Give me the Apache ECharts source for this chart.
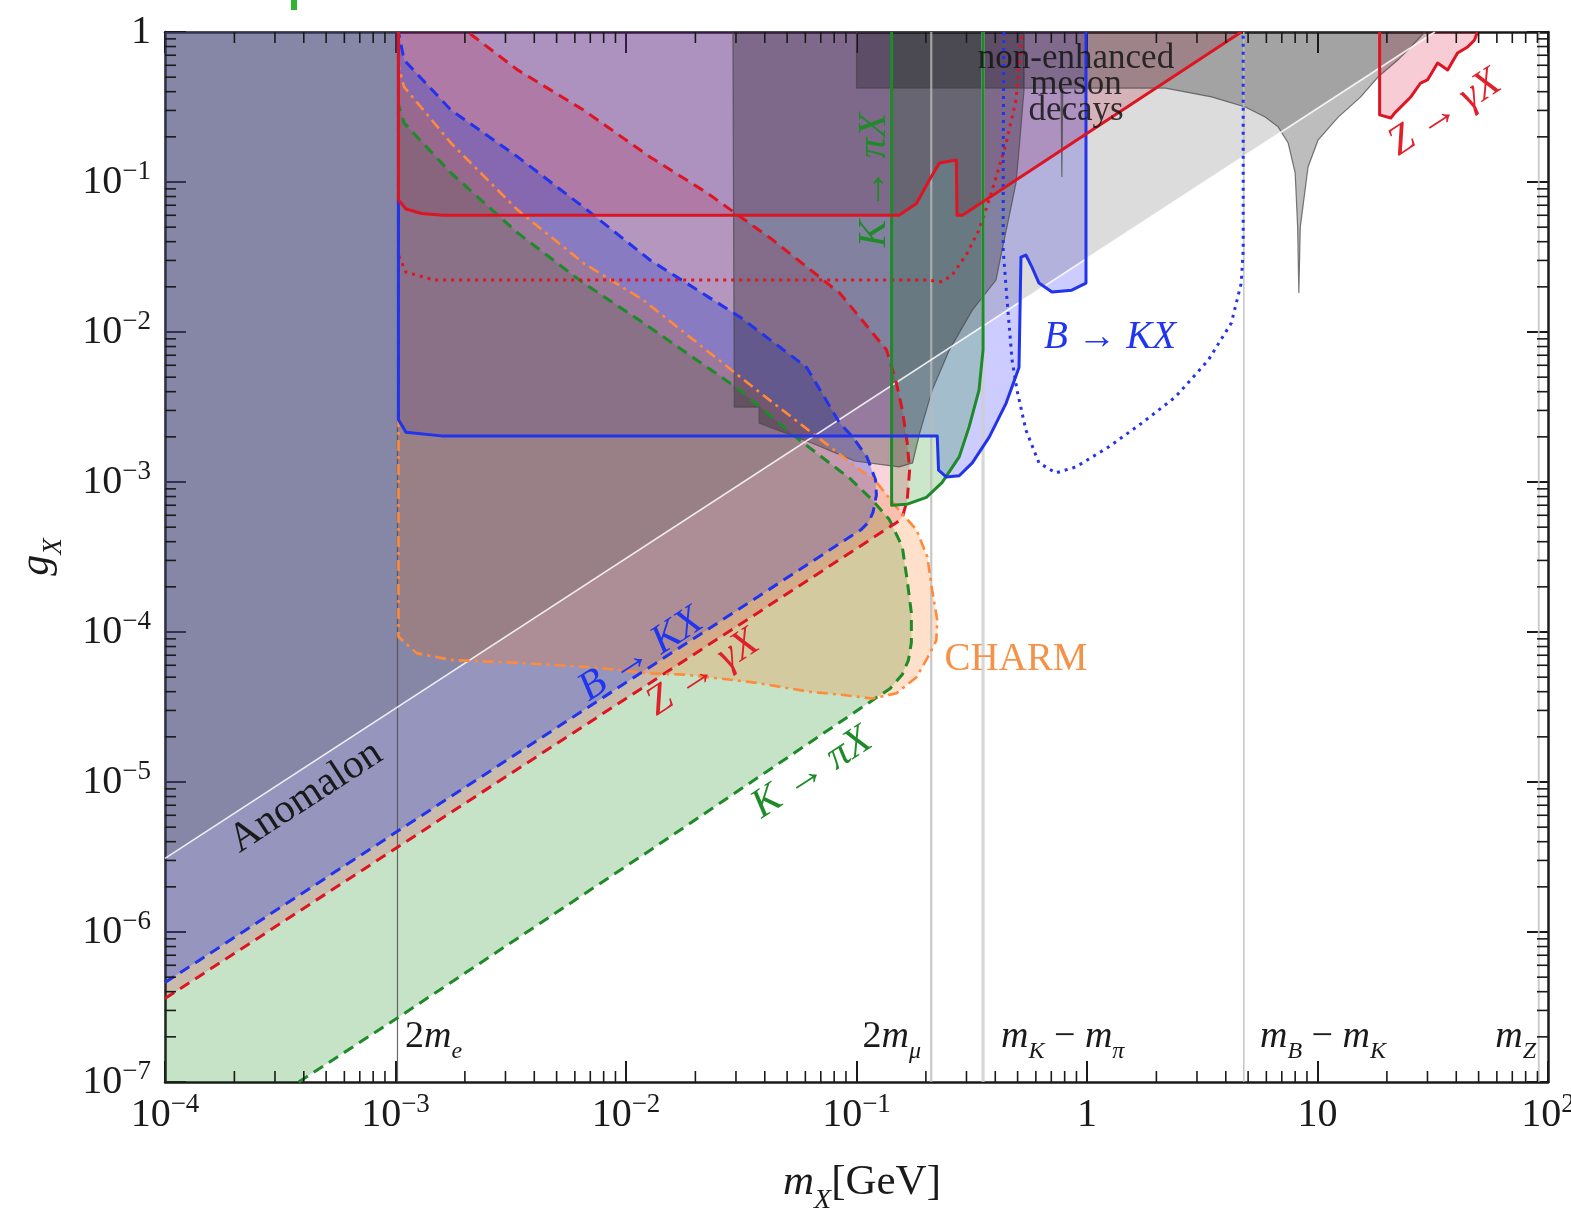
<!DOCTYPE html>
<html><head><meta charset="utf-8">
<script src="https://cdn.jsdelivr.net/npm/echarts@6/dist/echarts.min.js"></script>
<style>html,body{margin:0;padding:0;background:#fff}#c{width:1571px;height:1211px}</style>
</head><body><div id="c"></div>
<script>
// ================= DATA (m_X in GeV, g_X) =================
const xRange = [1e-4, 100];
const yRange = [1e-7, 1];
const thresholdNames = ['2me', '2mmu', 'mK-mpi', 'mB-mK', 'mZ'];
const thresholdMasses = [1.02e-3, 0.211, 0.354, 4.79, 91.19];

// white line: upper edge of the anomalon (light gray) region
const anomalonEdge = [[1e-4, 3.1e-6], [32.3, 1]];

// B -> K X (enhanced, dashed)
const bkxEnhanced = [[1e-4,4.6e-7],[0.105,4.83e-4],[0.113,5.4e-4],[0.118,6.3e-4],[0.122,8.2e-4],[0.121,1.03e-3],[0.111,1.47e-3],[0.0962,2.0e-3],[0.0845,2.47e-3],[0.0608,5.8e-3],[0.0312,0.0126],[0.0127,0.0302],[6.54e-3,0.068],[3.39e-3,0.147],[1.74e-3,0.302],[1.09e-3,0.65],[1.03e-3,1]];
// Z -> gamma X (enhanced, dashed)
const zgxEnhanced = [[1e-4,3.6e-7],[0.15,5.4e-4],[0.158,5.8e-4],[0.166,7.6e-4],[0.17,1.2e-3],[0.166,1.82e-3],[0.158,3.02e-3],[0.149,4.57e-3],[0.135,7.6e-3],[0.0845,0.0182],[0.0434,0.041],[0.0225,0.0845],[0.0127,0.147],[6.54e-3,0.302],[3.39e-3,0.558],[2.06e-3,1]];
// K -> pi X (enhanced, dashed)
const kpxEnhanced = [[3.8e-4,1e-7],[1.03e-3,2.7e-7],[0.0127,3.5e-6],[0.117,3.5e-5],[0.14,4.2e-5],[0.158,5.2e-5],[0.168,6.5e-5],[0.173,8.5e-5],[0.173,1.34e-4],[0.166,2.2e-4],[0.158,3.7e-4],[0.139,5.6e-4],[0.117,7.6e-4],[0.0933,1.06e-3],[0.0567,1.9e-3],[0.0312,4.1e-3],[0.0119,0.0115],[6.54e-3,0.0212],[3.39e-3,0.0457],[1.74e-3,0.115],[1.09e-3,0.247],[1.03e-3,0.33]];
// CHARM (dot-dashed)
const charmEdge = [[1.03e-3,1],[1.03e-3,9.3e-5],[1.24e-3,7.2e-5],[1.76e-3,6.5e-5],[3.6e-3,6.2e-5],[7.3e-3,5.8e-5],[0.0125,5.3e-5],[0.0179,5.2e-5],[0.0253,4.9e-5],[0.0362,4.6e-5],[0.0621,4.0e-5],[0.0879,3.8e-5],[0.117,3.6e-5],[0.149,3.9e-5],[0.182,5.0e-5],[0.204,6.8e-5],[0.222,8.8e-5],[0.224,1.2e-4],[0.213,1.9e-4],[0.203,3.16e-4],[0.182,4.8e-4],[0.149,6.8e-4],[0.12,1.03e-3],[0.101,1.24e-3],[0.0393,3.8e-3],[0.0119,0.0163],[6.54e-3,0.0288],[3.39e-3,0.065],[1.74e-3,0.182],[1.09e-3,0.43],[1.03e-3,0.6]];
// non-enhanced (solid) bounds
const kpxVisible = [[0.142,1],[0.142,7.0e-4],[0.165,7.1e-4],[0.201,7.9e-4],[0.235,9.9e-4],[0.279,1.47e-3],[0.308,2.33e-3],[0.34,4.1e-3],[0.354,7.6e-3],[0.354,1]];
const bkxVisible = [[1.03e-3,1],[1.03e-3,2.6e-3],[1.11e-3,2.15e-3],[1.58e-3,2.03e-3],[0.224,2.03e-3],[0.227,1.2e-3],[0.245,1.08e-3],[0.279,1.1e-3],[0.318,1.34e-3],[0.377,2.0e-3],[0.446,3.36e-3],[0.507,5.8e-3],[0.517,0.0316],[0.543,0.0326],[0.577,0.0271],[0.619,0.0212],[0.705,0.0185],[0.859,0.019],[0.99,0.0212],[0.99,1]];
const zgxVisible = [[1.03e-3,1],[1.03e-3,0.076],[1.11e-3,0.066],[1.3e-3,0.0617],[1.6e-3,0.06],[0.153,0.06],[0.182,0.072],[0.207,0.103],[0.229,0.134],[0.271,0.14],[0.273,0.06],[0.288,0.06],[4.67,1]];
const zgxHigh = [[18.6,1],[18.6,0.28],[20.8,0.267],[21.6,0.288],[25.4,0.369],[28.0,0.457],[30.0,0.479],[33.2,0.621],[36.7,0.558],[40.5,0.724],[44.8,0.794],[48.0,0.885],[49.4,1]];
// dotted curves
const bkxDotted = [[0.436,1],[0.433,0.163],[0.433,0.035],[0.45,0.0163],[0.473,6.5e-3],[0.497,4.1e-3],[0.543,2.22e-3],[0.619,1.34e-3],[0.733,1.15e-3],[0.895,1.26e-3],[1.24,1.71e-3],[1.73,2.47e-3],[2.42,3.69e-3],[3.36,6.5e-3],[4.23,0.0115],[4.67,0.0212],[4.76,0.035],[4.76,1]];
const zgxDotted = [[1.03e-3,1],[1.03e-3,0.0326],[1.11e-3,0.0251],[1.47e-3,0.0222],[0.201,0.0222],[0.235,0.0216],[0.26,0.024],[0.299,0.0326],[0.34,0.0479],[0.376,0.0759],[0.416,0.126],[0.446,0.182],[0.492,0.352],[0.522,1]];
// dark gray regions
const mesonBox = [[0.1,1],[0.1,0.423],[0.772,0.423],[0.778,0.108],[0.785,0.423],[2.19,0.423],[3.47,0.369],[4.86,0.316],[5.93,0.271],[6.75,0.233],[7.46,0.182],[8.0,0.115],[8.2,0.05],[8.3,0.0182],[8.42,0.05],[9.1,0.126],[10.05,0.19],[12.3,0.271],[15.4,0.369],[18.3,0.501],[22.3,0.65],[25.4,0.794],[29.2,1]];
const darkRegion = [[0.0291,1],[0.0295,3.16e-3],[0.0378,3.16e-3],[0.0378,2.47e-3],[0.064,1.82e-3],[0.098,1.38e-3],[0.153,1.26e-3],[0.175,1.34e-3],[0.188,2.12e-3],[0.213,4.1e-3],[0.253,7.6e-3],[0.318,0.014],[0.403,0.0222],[0.428,0.0352],[0.459,0.0585],[0.492,0.0985],[0.507,0.163],[0.533,0.41],[0.533,1]];

// ================= helpers =================
const SERIF = "'Liberation Serif','DejaVu Serif',serif";
const TL = xRange[0], TR = xRange[1], YB = yRange[0], YT = yRange[1];

function polySeries(name, pts, fill, stroke, lw, z) {
  return {
    type: 'custom', name: name, coordinateSystem: 'cartesian2d', data: pts, z: z, silent: true,
    renderItem: function (params, api) {
      if (params.dataIndex !== 0) return null;
      const points = pts.map(function (p) { return api.coord(p); });
      return { type: 'polygon', shape: { points: points },
        style: { fill: fill, stroke: stroke || null, lineWidth: lw || 0 } };
    }
  };
}
function lineSeries(name, pts, color, width, type, z) {
  return { type: 'line', name: name, data: pts, symbol: 'none', showSymbol: false, silent: true, z: z,
    lineStyle: { color: color, width: width, type: type || 'solid', cap: 'butt', join: 'round' } };
}

// minor tick positions (2..9 x 10^n)
const minorX = [], minorY = [];
for (let e = -4; e < 2; e++) for (let k = 2; k < 10; k++) minorX.push(k * Math.pow(10, e));
for (let e = -7; e < 0; e++) for (let k = 2; k < 10; k++) minorY.push(k * Math.pow(10, e));

function expLabel(v) {
  const e = Math.round(Math.log10(v));
  if (e === 0) return '{a|1}';
  if (e === 1) return '{a|10}';
  return '{a|10}{b|' + (e < 0 ? '\u2212' : '') + Math.abs(e) + '}';
}
const tickRich = {
  a: { fontFamily: SERIF, fontSize: 40, lineHeight: 48, color: '#1a1a1a' },
  b: { fontFamily: SERIF, fontSize: 27, lineHeight: 27, verticalAlign: 'top', color: '#1a1a1a' }
};

function axisCommon(extra) {
  return Object.assign({
    type: 'log', logBase: 10,
    axisLine: { show: true, onZero: false, lineStyle: { color: '#1a1a1a', width: 2.5 } },
    axisTick: { show: true, inside: true, length: 21, lineStyle: { color: '#1a1a1a', width: 2 } },
    splitLine: { show: false }, minorTick: { show: false }, minorSplitLine: { show: false }
  }, extra);
}

// ================= series (drawing order matters for the translucent blend) =================
const series = [];
const C = {
  zgxVis: 'rgba(220,0,40,0.2)', bkxVis: 'rgba(0,0,255,0.2)', kpxVis: 'rgba(0,128,0,0.20)',
  kpx: 'rgba(0,128,0,0.22)', zgxBand: 'rgba(220,0,40,0.17)', bkx: 'rgba(30,60,230,0.30)',
  charm: 'rgba(255,120,20,0.22)', anom: 'rgba(71,71,71,0.19)', dark: 'rgba(0,0,0,0.27)', box: 'rgba(0,0,0,0.26)'
};
series.push(polySeries('Z->gX', zgxVisible, C.zgxVis, null, 0, 1));
series.push(polySeries('Z->gX high', zgxHigh, C.zgxVis, null, 0, 1));
series.push(polySeries('B->KX', bkxVisible, C.bkxVis, null, 0, 1));
series.push(polySeries('K->piX', kpxVisible, C.kpxVis, null, 0, 1));
series.push(polySeries('K->piX enhanced', [[TL, YB]].concat(kpxEnhanced, [[1.03e-3, YT], [TL, YT]]), C.kpx, null, 0, 1));
series.push(polySeries('Z->gX enhanced', zgxEnhanced.concat([[TL, YT]]), C.zgxBand, null, 0, 1));
series.push(polySeries('B->KX enhanced', bkxEnhanced.concat([[TL, YT]]), C.bkx, null, 0, 1));
series.push(polySeries('CHARM', charmEdge, C.charm, null, 0, 1));
series.push(polySeries('Anomalon', anomalonEdge.concat([[TL, YT]]), C.anom, null, 0, 1));
series.push(polySeries('dark', darkRegion, C.dark, 'rgba(70,70,70,0.7)', 1.2, 1));
series.push(polySeries('non-enhanced meson decays', mesonBox, C.box, 'rgba(70,70,70,0.7)', 1.2, 1));

// threshold lines
const thrStyle = [['rgba(80,80,80,0.85)', 1.2], ['rgba(185,185,185,0.8)', 2.2], ['rgba(205,205,205,0.8)', 3.2], ['rgba(190,190,190,0.85)', 1.6], ['rgba(195,195,195,0.85)', 2]];
thresholdMasses.forEach(function (m, i) {
  series.push(lineSeries(thresholdNames[i], [[m, YB], [m, YT]], thrStyle[i][0], thrStyle[i][1], 'solid', 3));
});
series.push(lineSeries('anomalon edge', anomalonEdge, 'rgba(255,255,255,0.85)', 1.6, 'solid', 4));

// boundaries
const BLUE = '#2233ee', RED = '#dd1522', GREEN = '#1e8a28', ORANGE = '#ff8a3a';
series.push(lineSeries('K->piX enh line', kpxEnhanced, GREEN, 3, [11, 7], 5));
series.push(lineSeries('Z->gX enh line', zgxEnhanced, RED, 3, [11, 7], 5));
series.push(lineSeries('B->KX enh line', bkxEnhanced, BLUE, 3, [11, 7], 5));
series.push(lineSeries('B->KX enh vert', [[1.03e-3, YT], [1.03e-3, 2.6e-3]], BLUE, 3, [11, 7], 5));
series.push(lineSeries('CHARM line', charmEdge, ORANGE, 2.6, [11, 5, 3, 5], 5));
series.push(lineSeries('Z->gX dotted', zgxDotted, RED, 3, [3, 5], 6));
series.push(lineSeries('B->KX dotted', bkxDotted, BLUE, 3, [3, 5], 6));
series.push(lineSeries('K->piX line', kpxVisible, GREEN, 3, 'solid', 7));
series.push(lineSeries('B->KX line', bkxVisible, BLUE, 3, 'solid', 7));
series.push(lineSeries('Z->gX line', zgxVisible, RED, 3, 'solid', 7));
series.push(lineSeries('Z->gX high line', zgxHigh, RED, 3, 'solid', 7));

// minor ticks on all four sides
series.push({
  type: 'custom', name: 'minor ticks', coordinateSystem: 'cartesian2d', data: [[1e-3, 1e-3]], z: 20, silent: true, clip: false,
  renderItem: function (params, api) {
    const ch = [];
    const st = { stroke: '#1a1a1a', lineWidth: 1.6 };
    minorX.forEach(function (v) {
      const b = api.coord([v, YB]), t = api.coord([v, YT]);
      ch.push({ type: 'line', shape: { x1: b[0], y1: b[1], x2: b[0], y2: b[1] - 11 }, style: st });
      ch.push({ type: 'line', shape: { x1: t[0], y1: t[1], x2: t[0], y2: t[1] + 11 }, style: st });
    });
    minorY.forEach(function (v) {
      const l = api.coord([TL, v]), r = api.coord([TR, v]);
      ch.push({ type: 'line', shape: { x1: l[0], y1: l[1], x2: l[0] + 11, y2: l[1] }, style: st });
      ch.push({ type: 'line', shape: { x1: r[0], y1: r[1], x2: r[0] - 11, y2: r[1] }, style: st });
    });
    return { type: 'group', children: ch };
  }
});

// ================= labels =================
function rt(size, color, italic) {
  return { fontFamily: SERIF, fontSize: size, fill: color, fontStyle: italic ? 'italic' : 'normal' };
}
function subRich(size, color) {
  return {
    n: { fontFamily: SERIF, fontSize: size, lineHeight: size + 6, verticalAlign: 'top', fill: color },
    i: { fontFamily: SERIF, fontSize: size, lineHeight: size + 6, verticalAlign: 'top', fontStyle: 'italic', fill: color },
    s: { fontFamily: SERIF, fontSize: Math.round(size * 0.64), lineHeight: Math.round(size * 0.64), padding: [Math.round(size * 0.58), 0, 0, 0], verticalAlign: 'top', fontStyle: 'italic', fill: color }
  };
}
const ANG = Math.atan(150 / 231);
function T(x, y, text, style, rot, extra) {
  return Object.assign({ type: 'text', x: x, y: y, rotation: rot || 0, z: 100, silent: true,
    style: Object.assign({ text: text, align: 'center', verticalAlign: 'middle' }, style) }, extra || {});
}
const graphics = [
  { type: 'rect', shape: { x: 291, y: 0, width: 6, height: 10 }, style: { fill: '#2fb52f' }, z: 100 },
  T(306, 797, 'Anomalon', rt(41, '#1a1a1a', false), ANG),
  T(641, 655, 'B \u2192 KX', rt(41, '#2035f0', true), ANG),
  T(703, 673, 'Z \u2192 \u03b3X', rt(41, '#e0202a', true), ANG),
  T(812, 773, 'K \u2192 \u03c0X', rt(41, '#1e8a28', true), ANG),
  T(874, 180, 'K \u2192 \u03c0X', rt(41, '#1e8a28', true), Math.PI / 2),
  T(1016, 660, 'CHARM', rt(39, '#f5924a', false), 0),
  T(1110, 338, 'B \u2192 KX', rt(39, '#2035f0', true), 0),
  T(1445, 113, 'Z \u2192 \u03b3X', rt(41, '#e0202a', true), ANG),
  T(1076, 85, 'non-enhanced\nmeson\ndecays', Object.assign(rt(35, 'rgba(20,20,20,0.85)', false), { lineHeight: 26 }), 0),
  T(405, 1040, '{n|2}{i|m}{s|e}', { rich: subRich(38, '#1a1a1a'), align: 'left' }, 0),
  T(921, 1040, '{n|2}{i|m}{s|\u03bc}', { rich: subRich(38, '#1a1a1a'), align: 'right' }, 0),
  T(1001, 1040, '{i|m}{s|K}{n| \u2212 }{i|m}{s|\u03c0}', { rich: subRich(38, '#1a1a1a'), align: 'left' }, 0),
  T(1260, 1040, '{i|m}{s|B}{n| \u2212 }{i|m}{s|K}', { rich: subRich(38, '#1a1a1a'), align: 'left' }, 0),
  T(1536, 1040, '{i|m}{s|Z}', { rich: subRich(38, '#1a1a1a'), align: 'right' }, 0),
  T(40, 557, '{i|g}{s|X}', { rich: subRich(42, '#1a1a1a') }, Math.PI / 2),
  T(862, 1186, '{i|m}{s|X}{n|[GeV]}', { rich: subRich(43, '#1a1a1a') }, 0)
];

// ================= chart =================
const chart = echarts.init(document.getElementById('c'), null, { renderer: 'canvas' });
chart.setOption({
  animation: false,
  backgroundColor: '#ffffff',
  grid: { left: 165, right: 23, top: 32, bottom: 129, containLabel: false, outerBoundsMode: 'none' },
  xAxis: [
    axisCommon({ min: xRange[0], max: xRange[1], position: 'bottom',
      axisLabel: { show: true, formatter: expLabel, rich: tickRich, margin: 9, hideOverlap: false, showMinLabel: true, showMaxLabel: true } }),
    axisCommon({ min: xRange[0], max: xRange[1], position: 'top', axisLabel: { show: false } })
  ],
  yAxis: [
    axisCommon({ min: yRange[0], max: yRange[1], position: 'left',
      axisLabel: { show: true, formatter: expLabel, rich: tickRich, margin: 14, hideOverlap: false, showMinLabel: true, showMaxLabel: true } }),
    axisCommon({ min: yRange[0], max: yRange[1], position: 'right', axisLabel: { show: false } })
  ],
  series: series,
  graphic: { elements: graphics }
});
</script></body></html>
